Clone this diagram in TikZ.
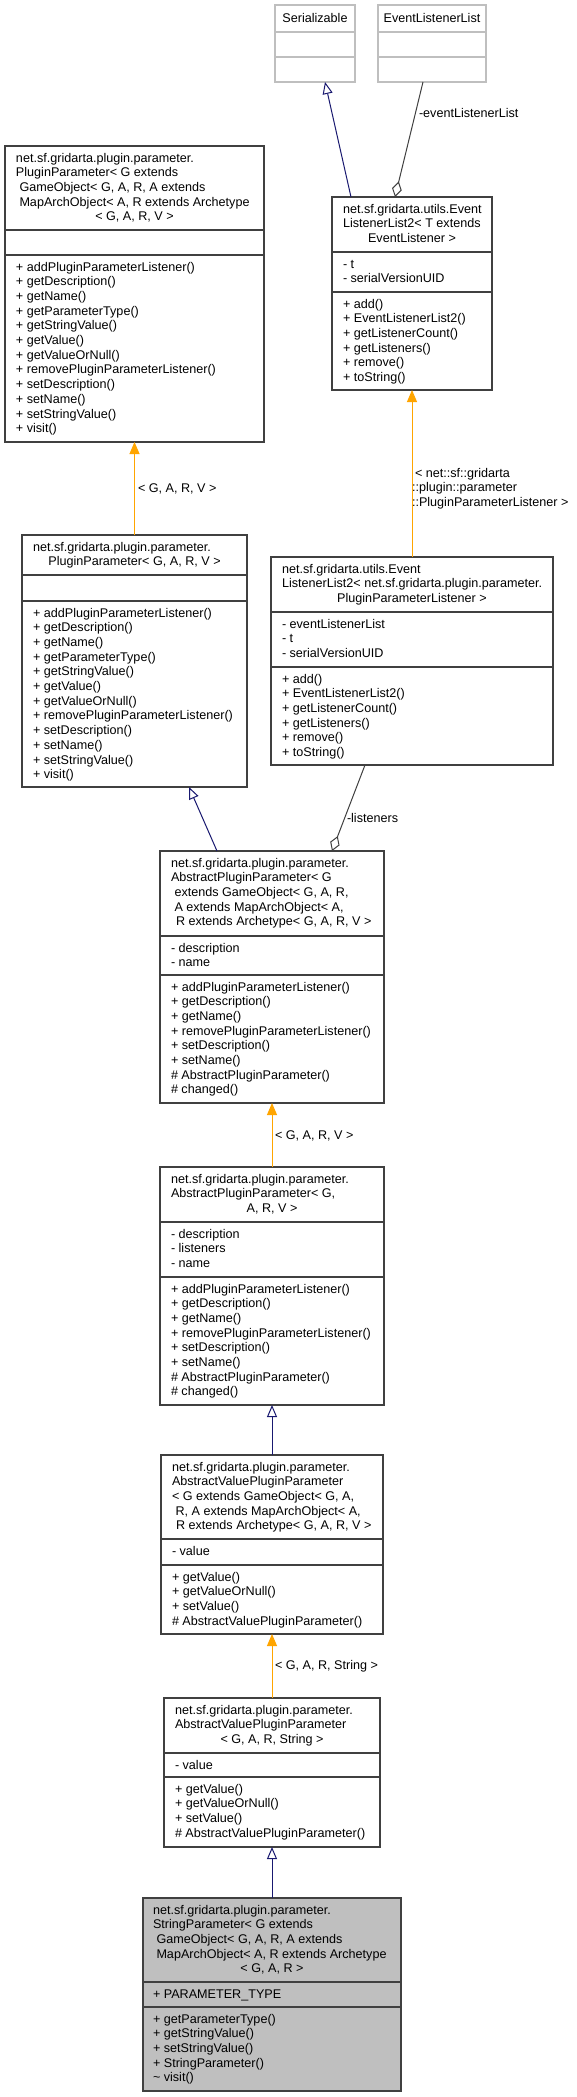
\documentclass[tikz,border=0pt]{standalone}
\usepackage{fontspec}
\setmainfont{Liberation Sans}
\usetikzlibrary{arrows.meta,calc}
\definecolor{dgrey}{HTML}{404040}
\definecolor{lgrey}{HTML}{BFBFBF}
\definecolor{navyc}{HTML}{191970}
\definecolor{orng}{HTML}{FFA500}
\definecolor{spfill}{HTML}{BFBFBF}
\tikzset{
  classbox/.style={draw=dgrey, line width=1.1pt, fill=white, inner sep=0pt, outer sep=0pt, rectangle, anchor=north west},
  ghostbox/.style={draw=lgrey},
  divline/.style={line width=1.1pt},
  txt/.style={font=\fontsize{12.6}{14.7}\selectfont, inner sep=0pt, outer sep=0pt, text=black},
  inherit/.style={draw=navyc, line width=1pt, -{Triangle[open, length=12pt, width=10pt]}},
  realize/.style={draw=orng, line width=1pt, -{Triangle[length=12pt, width=10pt, fill=orng]}},
  aggr/.style={draw=dgrey, line width=1pt, -{Diamond[open, length=16pt, width=10pt]}},
}
% #1 extra style, #2 name, #3 x, #4 y, #5 width, #6 height, #7 divider offsets, #8 divider colour
\newcommand{\umlbox}[8][]{%
  \node[classbox, #1, minimum width=#5pt, minimum height=#6pt] (#2) at (#3,#4) {};
  \foreach \dv in {#7} {\draw[divline, draw=#8] ([yshift=-\dv pt]#2.north west) -- ([yshift=-\dv pt]#2.north east);}
}
% #1 name, #2 x, #3 first baseline, #4 list of lines
\newcommand{\tlines}[4]{%
  \foreach \lintext [count=\i] in {#4} {\node[txt, anchor=base west] (#1-\i) at (#2,{#3+(\i-1)*14.7}) {\lintext};}
}
\begin{document}
\begin{tikzpicture}[x=1pt, y=-1pt]
\useasboundingbox (0,0) rectangle (576,2097);
\fill[white] (0,0) rectangle (576,2097);

% Serializable
\umlbox[ghostbox]{ser}{275}{5}{80}{77}{27,52}{lgrey}
\node[txt, anchor=base] (ser-t) at (315,22) {Serializable};
% EventListenerList
\umlbox[ghostbox]{ell}{378}{5}{108}{77}{27,52}{lgrey}
\node[txt, anchor=base] (ell-t) at (432,22) {EventListenerList};

% PluginParameter full
\umlbox{ppfull}{5}{146}{259}{296}{84,109}{dgrey}
\tlines{ppfullh}{16}{162}{net.sf.gridarta.plugin.parameter., PluginParameter< G extends, {\ GameObject< G, A, R, A extends}, {\ MapArchObject< A, R extends Archetype}}
\node[txt, anchor=base] (ppfullc) at (134.5,220.8) {< G, A, R, V >};
\tlines{ppfullm}{16}{271}{+ addPluginParameterListener(), + getDescription(), + getName(), + getParameterType(), + getStringValue(), + getValue(), + getValueOrNull(), + removePluginParameterListener(), + setDescription(), + setName(), + setStringValue(), + visit()}

% EventListenerList2<T>
\umlbox{ell2t}{332}{197}{160}{193}{55,95}{dgrey}
\tlines{ell2th}{343}{213}{net.sf.gridarta.utils.Event, ListenerList2< T extends}
\node[txt, anchor=base] (ell2tc) at (412,242.4) {EventListener >};
\tlines{ell2ta}{343}{268}{- t, - serialVersionUID}
\tlines{ell2tm}{343}{308}{+ add(), + EventListenerList2(), + getListenerCount(), + getListeners(), + remove(), + toString()}

% PluginParameter<G,A,R,V>
\umlbox{ppgen}{22}{535}{225}{252}{40,66}{dgrey}
\tlines{ppgenh}{33}{551}{net.sf.gridarta.plugin.parameter.}
\node[txt, anchor=base] (ppgenc) at (134.5,565.7) {PluginParameter< G, A, R, V >};
\tlines{ppgenm}{33}{617}{+ addPluginParameterListener(), + getDescription(), + getName(), + getParameterType(), + getStringValue(), + getValue(), + getValueOrNull(), + removePluginParameterListener(), + setDescription(), + setName(), + setStringValue(), + visit()}

% EventListenerList2<PluginParameterListener>
\umlbox{ell2p}{271}{557}{282}{208}{55,110}{dgrey}
\tlines{ell2ph}{282}{573}{net.sf.gridarta.utils.Event, ListenerList2< net.sf.gridarta.plugin.parameter.}
\node[txt, anchor=base] (ell2pc) at (412,602.4) {PluginParameterListener >};
\tlines{ell2pa}{282}{628}{- eventListenerList, - t, - serialVersionUID}
\tlines{ell2pm}{282}{683}{+ add(), + EventListenerList2(), + getListenerCount(), + getListeners(), + remove(), + toString()}

% AbstractPluginParameter full
\umlbox{appfull}{160}{851}{224}{252}{85,124}{dgrey}
\tlines{appfullh}{171}{867}{net.sf.gridarta.plugin.parameter., AbstractPluginParameter< G, {\ extends GameObject< G, A, R,}, {\ A extends MapArchObject< A,}}
\node[txt, anchor=base] (appfullc) at (272,925.8) {\ R extends Archetype< G, A, R, V >};
\tlines{appfulla}{171}{952}{- description, - name}
\tlines{appfullm}{171}{991}{+ addPluginParameterListener(), + getDescription(), + getName(), + removePluginParameterListener(), + setDescription(), + setName(), \# AbstractPluginParameter(), \# changed()}

% AbstractPluginParameter<G,A,R,V>
\umlbox{appgen}{160}{1167}{224}{238}{55,110}{dgrey}
\tlines{appgenh}{171}{1183}{net.sf.gridarta.plugin.parameter., AbstractPluginParameter< G\rlap{,}}
\node[txt, anchor=base] (appgenc) at (272,1212.4) {A, R, V >};
\tlines{appgena}{171}{1238}{- description, - listeners, - name}
\tlines{appgenm}{171}{1293}{+ addPluginParameterListener(), + getDescription(), + getName(), + removePluginParameterListener(), + setDescription(), + setName(), \# AbstractPluginParameter(), \# changed()}

% AbstractValuePluginParameter full
\umlbox{avppfull}{161}{1455}{222}{179}{84,110}{dgrey}
\tlines{avppfullh}{172}{1471}{net.sf.gridarta.plugin.parameter., AbstractValuePluginParameter, {< G extends GameObject< G, A,}, {\ R, A extends MapArchObject< A,}}
\node[txt, anchor=base] (avppfullc) at (272,1529.8) {\ R extends Archetype< G, A, R, V >};
\tlines{avppfulla}{172}{1555}{- value}
\tlines{avppfullm}{172}{1581}{+ getValue(), + getValueOrNull(), + setValue(), \# AbstractValuePluginParameter()}

% AbstractValuePluginParameter<G,A,R,String>
\umlbox{avpps}{164}{1698}{216}{149}{55,79}{dgrey}
\tlines{avppsh}{175}{1714}{net.sf.gridarta.plugin.parameter., AbstractValuePluginParameter}
\node[txt, anchor=base] (avppsc) at (272,1743.4) {< G, A, R, String >};
\tlines{avppsa}{175}{1769}{- value}
\tlines{avppsm}{175}{1793}{+ getValue(), + getValueOrNull(), + setValue(), \# AbstractValuePluginParameter()}

% StringParameter
\umlbox[fill=spfill]{sp}{143}{1898}{258}{193}{84,109}{dgrey}
\tlines{sph}{153}{1914}{net.sf.gridarta.plugin.parameter., StringParameter< G extends, {\ GameObject< G, A, R, A extends}, {\ MapArchObject< A, R extends Archetype}}
\node[txt, anchor=base] (spc) at (272,1972.8) {< G, A, R >};
\tlines{spa}{153}{1998}{+ PARAMETER\_TYPE}
\tlines{spm}{153}{2023}{+ getParameterType(), + getStringValue(), + setStringValue(), + StringParameter(), \textasciitilde\ visit()}

% connectors
\draw[inherit] ($(ell2t.north west)+(19,0)$) -- ($(ser.south west)+(50,0)$);
\draw[aggr] ($(ell.south west)+(45,0)$) -- ($(ell2t.north west)+(63,0)$);
\node[txt, anchor=base west] (lbl-ell) at (419,117.5) {-eventListenerList};

\draw[realize] (ppgen.north) -- (ppfull.south);
\node[txt, anchor=base west] (lbl-pp) at (138,492.5) {< G, A, R, V >};

\draw[realize] (ell2p.north) -- (ell2t.south);
\node[txt, anchor=base west] (lbl-ell2a) at (415,477.2) {< net::sf::gridarta};
\node[txt, anchor=base west] (lbl-ell2b) at (412,491.9) {::plugin::parameter};
\node[txt, anchor=base west] (lbl-ell2c) at (412,506.6) {::PluginParameterListener >};

\draw[inherit] ($(appfull.north west)+(57,0)$) -- ($(ppgen.south west)+(167,0)$);
\draw[aggr] ($(ell2p.south west)+(94,0)$) -- ($(appfull.north west)+(172,0)$);
\node[txt, anchor=base west] (lbl-lis) at (347,822.5) {-listeners};

\draw[realize] (appgen.north) -- (appfull.south);
\node[txt, anchor=base west] (lbl-app) at (275,1139.5) {< G, A, R, V >};

\draw[inherit] (avppfull.north) -- (appgen.south);

\draw[realize] (avpps.north) -- (avppfull.south);
\node[txt, anchor=base west] (lbl-avpp) at (275,1669.5) {< G, A, R, String >};

\draw[inherit] (sp.north) -- (avpps.south);
\end{tikzpicture}
\end{document}
